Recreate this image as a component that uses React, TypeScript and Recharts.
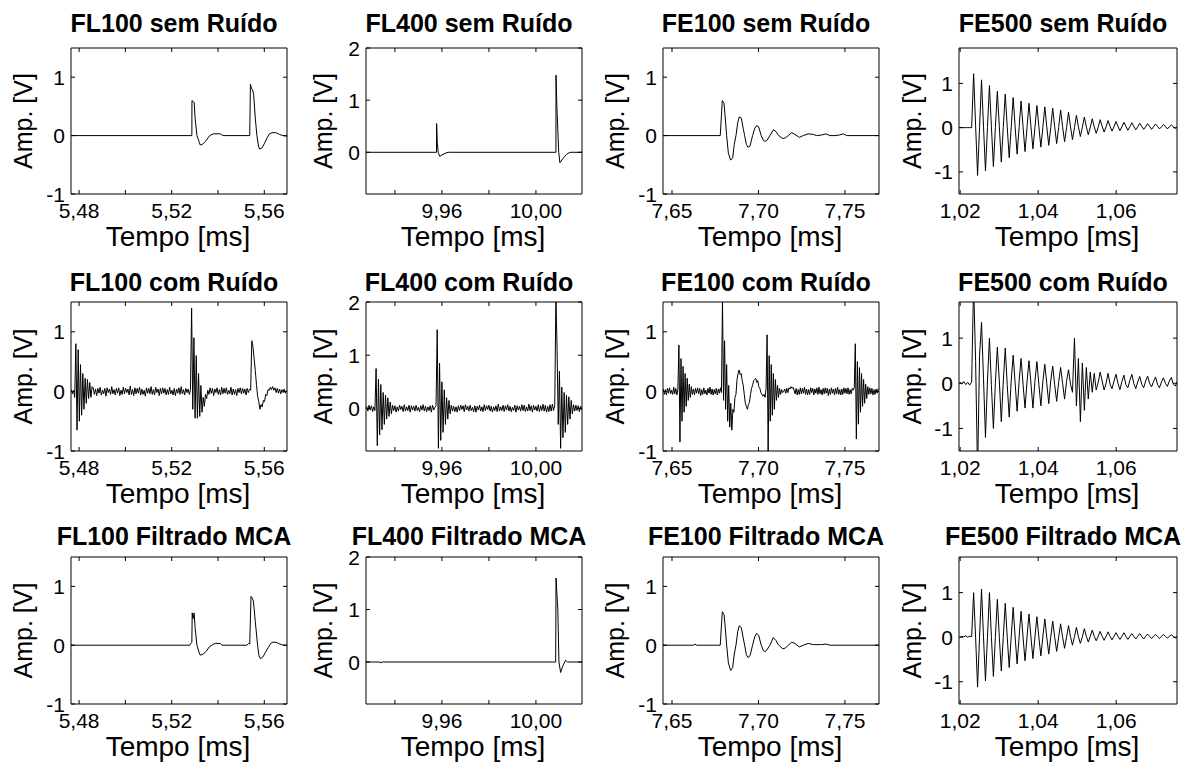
import { LineChart, Line, XAxis, YAxis } from 'recharts';

type Pt = [number, number];

// ---------- axes (time in ms, amplitude in V) ----------
const fl100XDomain = [5.4765, 5.5698];
const fl100XTicks = [5.48, 5.5, 5.52, 5.54, 5.56];
const fl100XLabels = [5.48, 5.52, 5.56];
const fl400XDomain = [9.9277, 10.0196];
const fl400XTicks = [9.94, 9.96, 9.98, 10.0];
const fl400XLabels = [9.96, 10.0];
const fe100XDomain = [7.6448, 7.7697];
const fe100XTicks = [7.65, 7.7, 7.75];
const fe500XDomain = [1.0197, 1.0756];
const fe500XTicks = [1.02, 1.04, 1.06];

const ampDomainA = [-1, 1.5];
const ampTicksA = [-1, 0, 1];
const ampDomainB = [-0.8, 2];
const ampTicksB = [0, 1, 2];
const ampDomainC = [-1.5, 1.8];
const ampTicksC = [-1, 0, 1];

// ---------- sem ruído ----------
const fl100SemRuido: Pt[] = [
  [5.4765, 0], [5.5287, 0], [5.52875, 0.6], [5.5293, 0.58], [5.5297, 0.57], [5.5301, 0.3],
  [5.5309, 0], [5.5318, -0.1], [5.5323, -0.16], [5.5333, -0.15], [5.5345, -0.1], [5.5357, -0.04],
  [5.5367, 0.01], [5.5381, 0.03], [5.541, 0.03], [5.5421, 0], [5.5537, 0], [5.554, 0.88],
  [5.5545, 0.8], [5.5549, 0.79], [5.5554, 0.7], [5.5561, 0.3], [5.5568, 0], [5.5575, -0.18],
  [5.558, -0.23], [5.559, -0.21], [5.56, -0.14], [5.5612, -0.04], [5.562, 0.02], [5.5633, 0.05],
  [5.565, 0.05], [5.5666, 0.02], [5.568, 0], [5.5698, -0.01],
];
const fl400SemRuido: Pt[] = [
  [9.9277, 0], [9.9577, 0], [9.95775, 0.55], [9.958, 0.2], [9.9584, 0], [9.9591, -0.08],
  [9.96, -0.05], [9.9613, -0.02], [9.9627, 0], [10.0085, 0], [10.00855, 1.48], [10.0089, 0.88],
  [10.0097, 0], [10.0102, -0.2], [10.0115, -0.12], [10.013, -0.04], [10.0145, 0], [10.0196, 0],
];
const fe100SemRuido: Pt[] = [
  [7.6448, 0], [7.6779, 0], [7.67909, 0.6], [7.6801, 0.55], [7.6808, 0.3], [7.6816, 0],
  [7.6826, -0.3], [7.6839, -0.42], [7.6851, -0.38], [7.686, -0.15], [7.687, 0], [7.688, 0.22],
  [7.6889, 0.32], [7.6901, 0.3], [7.6912, 0.12], [7.692, 0], [7.693, -0.15], [7.6939, -0.2],
  [7.6951, -0.18], [7.6966, 0], [7.6978, 0.12], [7.6989, 0.17], [7.7001, 0.15], [7.7016, 0],
  [7.7028, -0.08], [7.7038, -0.1], [7.7049, -0.08], [7.7066, 0], [7.7086, 0.1], [7.7101, 0.07],
  [7.7117, 0], [7.714, -0.05], [7.7155, -0.04], [7.7172, 0], [7.7192, 0.05], [7.7211, 0.02],
  [7.7236, -0.03], [7.7259, 0], [7.7288, 0.03], [7.7317, 0.02], [7.7336, 0], [7.7365, 0.01],
  [7.739, 0.03], [7.7413, 0], [7.7442, 0], [7.7467, 0.01], [7.749, 0.03], [7.751, 0], [7.7697, 0],
];

// FE500 panels are sampled on one time base
const fe500T0 = 1.0199;
const fe500Dt = 0.000507;
const fe500SemRuido = [
  0, 0, 0, 0, 0, 0, 0,
  1.22, 0.05, -1.08, 0, 1.08, 0.03, -0.98, 0, 0.95, 0.02, -0.88, 0, 0.82, 0.02, -0.78, 0,
  0.76, 0.02, -0.68, 0, 0.68, 0.02, -0.6, 0, 0.6, 0.02, -0.54, 0, 0.55, 0.02, -0.48, 0,
  0.5, 0.02, -0.44, 0, 0.47, 0.02, -0.4, 0, 0.44, 0.02, -0.36, 0, 0.4, 0.02, -0.32, 0,
  0.35, 0.02, -0.27, 0, 0.28, 0.02, -0.2, 0.01, 0.24, 0.02, -0.16, 0.01, 0.2, 0.02, -0.13, 0.01,
  0.18, 0.03, -0.1, 0.02, 0.16, 0.03, -0.08, 0.02, 0.14, 0.03, -0.07, 0.02, 0.12, 0.03, -0.06, 0.02,
  0.11, 0.03, -0.05, 0.02, 0.1, 0.03, -0.04, 0.02, 0.09, 0.03, -0.04, 0.02, 0.08, 0.03, -0.03, 0.02,
  0.07, 0.03, -0.03, 0.02, 0.06, 0.02, -0.02, 0.01,
];

// ---------- com ruído (uniformly sampled) ----------
const fl100RuidoT0 = 5.4766;
const fl100RuidoDt = 0.0005;
const fl100ComRuido = [
  0.03, -0.04, 0.02,
  -0.1, 0.8, -0.65, 0.7, -0.5, 0.45, -0.4, 0.3, -0.3, 0.22, -0.2, 0.2, -0.12, 0.15, -0.1, 0.08,
  0.06, -0.05, 0.04, -0.07, 0.05, -0.03, 0.07, -0.06, 0.02, -0.04,
  0.05, -0.08, 0.06, -0.02, 0.04, -0.05, 0.08, -0.04, 0.03, -0.06,
  0.05, -0.03, 0.06, -0.07, 0.02, -0.05, 0.07, -0.04, 0.05, -0.02,
  0.04, -0.06, 0.09, -0.05, 0.03, -0.07, 0.06, -0.04, 0.05, -0.03,
  0.07, -0.06, 0.04, -0.05, 0.02, -0.08, 0.06, -0.03, 0.05, -0.04,
  0.08, -0.05, 0.03, -0.06, 0.07, -0.02, 0.04, -0.07, 0.05, -0.04,
  0.06, -0.03, 0.05, -0.06, 0.03, -0.05, 0.07, -0.04, 0.02, -0.06,
  0.05, -0.07, 0.04, -0.03, 0.06, -0.05, 0.08, -0.04, 0.03, -0.06,
  0.05, -0.02, 0.04, -0.05, 0.03,
  1.4, -0.3, 0.9, -0.45, 0.6, -0.45, 0.3, -0.42, 0.1, -0.35, -0.1, -0.25, -0.05, -0.12, 0.02,
  -0.05, 0.06, -0.03, 0.05, -0.07, 0.04, -0.02, 0.06, -0.05, 0.03,
  -0.06, 0.07, -0.04, 0.05, -0.03, 0.06, -0.05, 0.02, -0.04, 0.07,
  -0.06, 0.04, -0.05, 0.03, -0.07, 0.05, -0.02, 0.06, -0.04, 0.05,
  -0.03, 0.04, -0.06, 0.05, -0.02, 0.04, 0.02,
  0.85, 0.75, 0.55, 0.35, 0.12, -0.08, -0.17, -0.3, -0.22, -0.26,
  -0.15, -0.17, -0.05, -0.07, 0.03, 0.02, 0.07, 0.03, 0.08, 0.02,
  0.06, -0.02, 0.05, -0.03, 0.04, -0.04, 0.03, -0.02, 0.04, -0.03, 0.01,
];

const fl400RuidoT0 = 9.928;
const fl400RuidoDt = 0.0005;
const fl400ComRuido = [
  0.04, -0.05, 0.06, -0.03, 0.05, -0.06, 0.03, -0.04,
  0.75, -0.7, 0.55, -0.5, 0.45, -0.4, 0.3, -0.3, 0.25, -0.2, 0.2, -0.15, 0.12, -0.1,
  0.06, -0.04, 0.05, -0.07, 0.03, -0.05, 0.06, -0.02, 0.04, -0.06,
  0.07, -0.05, 0.03, -0.04, 0.06, -0.07, 0.05, -0.03, 0.04, -0.05,
  0.06, -0.04, 0.02, -0.06, 0.05, -0.03, 0.07, -0.05, 0.04, -0.06,
  0.03, -0.04, 0.05, -0.07, 0.06, -0.03, 0.02,
  0.05, 1.48, -0.75, 0.85, -0.6, 0.5, -0.45, 0.35, -0.3, 0.2, -0.2, 0.15, -0.1,
  0.06, -0.05, 0.04, -0.06, 0.03, -0.07, 0.05, -0.04, 0.06, -0.02,
  0.05, -0.06, 0.07, -0.03, 0.04, -0.05, 0.06, -0.04, 0.02, -0.06,
  0.05, -0.07, 0.04, -0.03, 0.06, -0.05, 0.03, -0.06, 0.07, -0.04,
  0.05, -0.02, 0.06, -0.05, 0.04, -0.07, 0.03, -0.04, 0.05, -0.06,
  0.08, -0.05, 0.03, -0.04, 0.06, -0.06, 0.05, -0.03, 0.07, -0.05,
  0.04, -0.06, 0.02, -0.04, 0.06, -0.07, 0.05, -0.03, 0.04, -0.05,
  0.07, -0.04, 0.06, -0.06, 0.03, -0.05, 0.08, -0.04, 0.05, -0.07,
  0.06, -0.03, 0.04, -0.05, 0.07, -0.06, 0.05, -0.04, 0.08, -0.05,
  0.06, -0.07, 0.04, -0.06, 0.07, -0.05, 0.08, -0.04, 0.06,
  2.1, 1.1, -0.3, 0.7, -0.75, 0.4, -0.55, 0.3, -0.45, 0.25, -0.3, 0.22, -0.2, 0.15, -0.1,
  0.07, -0.05, 0.06, -0.04, 0.05, -0.06, 0.04, -0.03,
];

const fe100RuidoT0 = 7.645;
const fe100RuidoDt = 0.0006;
const fe100ComRuido = [
  0.04, -0.05, 0.03, -0.06, 0.05, -0.03, 0.06, -0.04, 0.02, -0.05, 0.07, -0.04, 0.05, -0.06, 0.03,
  0.78, -0.85, 0.55, -0.5, 0.42, -0.35, 0.3, -0.25, 0.22, -0.15, 0.12, -0.1, 0.08,
  -0.05, 0.04, -0.06, 0.05, -0.03, 0.06, -0.04, 0.05, -0.07, 0.03,
  -0.05, 0.06, -0.04, 0.02, -0.06, 0.05, -0.03, 0.07, -0.05, 0.04,
  -0.06, 0.03, -0.04, 0.05, -0.06, 0.04, -0.03, 0.06, -0.02,
  1.55, -0.15, 0.85, -0.3, 0.45, -0.5, 0.1, -0.6, -0.2, -0.65,
  -0.3, -0.35, -0.1, -0.05, 0.2, 0.3, 0.36, 0.28, 0.3, 0.18,
  0.1, -0.05, -0.2, -0.25, -0.3, -0.22, -0.18, -0.05, 0.05, 0.1,
  0.18, 0.2, 0.22, 0.15, 0.18, 0.08, 0.05, -0.02, -0.05, -0.08,
  -0.05, -0.1, 0.05, 0.95, -1.05, 0.6, -0.5, 0.45, -0.4, 0.3,
  -0.3, 0.2, -0.15, 0.1, -0.1, 0.05, -0.05, 0.03, -0.02, 0,
  0.04, -0.03, 0.05, -0.02, 0.06, 0.04, 0.08, 0.05, 0.07, 0.02,
  -0.04, 0.05, -0.06, 0.03, -0.05, 0.06, -0.04, 0.05, -0.03, 0.07,
  -0.05, 0.04, -0.06, 0.03, -0.05, 0.06, -0.02, 0.05, -0.06, 0.04,
  -0.03, 0.06, -0.05, 0.07, -0.04, 0.03, -0.06, 0.05, -0.04, 0.06,
  -0.03, 0.05, -0.07, 0.04, -0.05, 0.06, -0.03, 0.04, -0.06, 0.05,
  -0.04, 0.07, -0.05, 0.03, -0.06, 0.04, -0.05, 0.06, -0.03, 0.05,
  -0.04, 0.06, -0.05, 0.03, -0.04, 0.05, 0.02,
  0.06, 0.8, -0.8, 0.5, -0.55, 0.4, -0.35, 0.3, -0.25, 0.2, -0.2, 0.12, -0.12, 0.08,
  -0.05, 0.06, -0.04, 0.05, -0.06, 0.03, -0.05, 0.04, -0.03, 0.05,
];

const fe500ComRuido = [
  0.03, -0.02, 0.04, -0.03, 0.02, -0.04, 0.03,
  2.2, 0.5, -2.0, 0.6,
  1.35, 0.1, -1.2, 0.05, 1.0, -0.05, -1.0, 0, 0.8, 0.05,
  -0.85, 0.03, 0.78, -0.03, -0.75, 0.05, 0.62, 0, -0.62, 0.04,
  0.55, -0.02, -0.55, 0.03, 0.5, 0, -0.55, 0.04, 0.48, -0.02,
  -0.5, 0.03, 0.42, 0, -0.45, 0.05, 0.38, -0.03, -0.4, 0.02,
  0.35, 0, -0.35, 0.04, 0.3, -0.02, -0.2,
  1.0, -0.5, 0.55, -0.85, 0.45, -0.6, 0.35, -0.35, 0.25, -0.2, 0.22, -0.15,
  0.02, 0.25, 0.05, -0.15, 0, 0.22, -0.02, -0.12, 0.05, 0.2,
  0, -0.14, 0.04, 0.18, -0.03, -0.1, 0.06, 0.2, 0, -0.12,
  0.03, 0.15, -0.02, -0.1, 0.05, 0.16, 0, -0.08, 0.04, 0.14,
  -0.02, -0.1, 0.03, 0.12, 0, -0.07, 0.05, 0.13, -0.02, -0.06,
  0.04,
];

// ---------- filtrado MCA ----------
const fl100Filtrado: Pt[] = [
  [5.4765, 0], [5.5278, 0], [5.5283, 0.03], [5.5287, 0.05], [5.52885, 0.55], [5.5292, 0.45],
  [5.5297, 0.55], [5.5301, 0.3], [5.5309, 0], [5.5318, -0.12], [5.5323, -0.17], [5.5336, -0.15],
  [5.535, -0.1], [5.5362, -0.03], [5.5377, 0.01], [5.5388, 0.03], [5.541, 0.03], [5.5417, 0],
  [5.5525, 0], [5.5532, 0.03], [5.5537, 0.02], [5.55425, 0.83], [5.5548, 0.8], [5.5553, 0.75],
  [5.5561, 0.4], [5.5571, 0], [5.5577, -0.18], [5.5583, -0.23], [5.5594, -0.2], [5.5605, -0.12],
  [5.5617, -0.04], [5.5623, 0], [5.5633, 0.05], [5.565, 0.05], [5.5667, 0.02], [5.5682, 0], [5.5698, 0],
];
const fl400Filtrado: Pt[] = [
  [9.9277, 0], [9.9336, 0], [9.934, -0.02], [9.9345, 0], [10.0084, 0], [10.00855, 1.6],
  [10.0093, 1.0], [10.0098, 0], [10.0105, -0.2], [10.0112, -0.1], [10.0118, -0.04],
  [10.0126, 0.03], [10.0134, 0], [10.0196, 0],
];
const fe100Filtrado: Pt[] = [
  [7.6448, 0], [7.6625, 0], [7.6633, 0.02], [7.6641, 0], [7.6779, 0], [7.67909, 0.57],
  [7.6801, 0.52], [7.6808, 0.3], [7.6816, 0], [7.6826, -0.3], [7.6839, -0.43], [7.6851, -0.38],
  [7.686, -0.15], [7.687, 0], [7.688, 0.23], [7.6889, 0.33], [7.6901, 0.3], [7.6912, 0.12],
  [7.692, 0], [7.693, -0.16], [7.6939, -0.21], [7.6951, -0.18], [7.6966, 0], [7.6978, 0.14],
  [7.6989, 0.2], [7.7001, 0.17], [7.7016, 0], [7.7028, -0.09], [7.7038, -0.11], [7.7049, -0.08],
  [7.7066, 0], [7.7086, 0.13], [7.7101, 0.08], [7.7117, 0], [7.714, -0.06], [7.7155, -0.05],
  [7.7172, 0], [7.7192, 0.05], [7.7211, 0.03], [7.7236, -0.03], [7.7259, 0], [7.7288, 0.03],
  [7.7317, 0.01], [7.7365, 0.01], [7.739, 0.02], [7.7413, 0], [7.7697, 0],
];
const fe500Filtrado = [
  0, 0.02, 0.01, 0.03, 0, 0.02, 0.01,
  1.0, 0, -1.12, 0, 1.08, 0, -0.98, 0, 1.0, 0, -0.88, 0, 0.85, 0, -0.76, 0,
  0.76, 0, -0.68, 0, 0.67, 0, -0.6, 0, 0.58, 0, -0.53, 0, 0.52, 0, -0.48, 0,
  0.46, 0, -0.42, 0, 0.41, 0, -0.38, 0, 0.36, 0, -0.32, 0, 0.3, 0, -0.25, 0,
  0.26, 0.01, -0.18, 0.01, 0.22, 0.01, -0.14, 0.01, 0.19, 0.02, -0.11, 0.02,
  0.16, 0.02, -0.08, 0.02, 0.13, 0.02, -0.07, 0.02, 0.12, 0.02, -0.06, 0.02,
  0.1, 0.02, -0.05, 0.02, 0.1, 0.02, -0.05, 0.02, 0.08, 0.02, -0.04, 0.02,
  0.08, 0.02, -0.04, 0.02, 0.07, 0.02, -0.03, 0.02, 0.06, 0.02, -0.03, 0.02,
  0.06, 0.02, -0.02, 0.02, 0.05, 0.02, -0.02, 0.01,
];

const titles = [
  ['FL100 sem Ruído', 'FL400 sem Ruído', 'FE100 sem Ruído', 'FE500 sem Ruído'],
  ['FL100 com Ruído', 'FL400 com Ruído', 'FE100 com Ruído', 'FE500 com Ruído'],
  ['FL100 Filtrado MCA', 'FL400 Filtrado MCA', 'FE100 Filtrado MCA', 'FE500 Filtrado MCA'],
];

const fromPairs = (pts: Pt[]) => pts.map(([t, v]) => ({ t, v }));
const fromSamples = (t0: number, dt: number, vals: number[]) => vals.map((v, i) => ({ t: t0 + i * dt, v }));

const seriesGrid = [
  [fromPairs(fl100SemRuido), fromPairs(fl400SemRuido), fromPairs(fe100SemRuido), fromSamples(fe500T0, fe500Dt, fe500SemRuido)],
  [
    fromSamples(fl100RuidoT0, fl100RuidoDt, fl100ComRuido),
    fromSamples(fl400RuidoT0, fl400RuidoDt, fl400ComRuido),
    fromSamples(fe100RuidoT0, fe100RuidoDt, fe100ComRuido),
    fromSamples(fe500T0, fe500Dt, fe500ComRuido),
  ],
  [fromPairs(fl100Filtrado), fromPairs(fl400Filtrado), fromPairs(fe100Filtrado), fromSamples(fe500T0, fe500Dt, fe500Filtrado)],
];

const COLS = [
  { left: 71, width: 216, yLabelGap: 48, xDomain: fl100XDomain, xTicks: fl100XTicks, xLabels: fl100XLabels, yDomain: ampDomainA, yTicks: ampTicksA },
  { left: 366, width: 216, yLabelGap: 43, xDomain: fl400XDomain, xTicks: fl400XTicks, xLabels: fl400XLabels, yDomain: ampDomainB, yTicks: ampTicksB },
  { left: 663, width: 216, yLabelGap: 48, xDomain: fe100XDomain, xTicks: fe100XTicks, xLabels: fe100XTicks, yDomain: ampDomainA, yTicks: ampTicksA },
  { left: 959, width: 218, yLabelGap: 47, xDomain: fe500XDomain, xTicks: fe500XTicks, xLabels: fe500XTicks, yDomain: ampDomainC, yTicks: ampTicksC },
];
const ROWS = [
  { top: 48, height: 146, titleY: 32 },
  { top: 302, height: 149, titleY: 291 },
  { top: 557, height: 147, titleY: 545 },
];

const FONT = 'Arial, "Liberation Sans", Helvetica, sans-serif';
// axes are 1px thick (recharts skips 0-sized axes), so margins are one less than the gap wanted
const M = { top: 9, right: 9, bottom: 33, left: 35 };
const GAP = { top: 10, right: 10, bottom: 34, left: 36 };
const TICK = 4;

const fmt = (v: number) => v.toFixed(2).replace('.', ',');
const hasLabel = (list: number[], v: number) => list.some((l) => Math.abs(l - v) < 1e-9);

function Panel({ row, col }: { row: number; col: number }) {
  const c = COLS[col];
  const r = ROWS[row];
  const data = seriesGrid[row][col];

  const bottomTick = (p: any) => (
    <g>
      <line x1={p.x} x2={p.x} y1={p.y} y2={p.y - TICK} stroke="#000" />
      {hasLabel(c.xLabels, p.payload.value) && (
        <text x={p.x} y={p.y + 24} textAnchor="middle" fontSize={21} fontFamily={FONT} fill="#000">
          {fmt(p.payload.value)}
        </text>
      )}
    </g>
  );
  const topTick = (p: any) => <line x1={p.x} x2={p.x} y1={p.y} y2={p.y + TICK} stroke="#000" />;
  const leftTick = (p: any) => (
    <g>
      <line x1={p.x} x2={p.x + TICK} y1={p.y} y2={p.y} stroke="#000" />
      <text x={p.x - 6} y={p.y} dy="0.36em" textAnchor="end" fontSize={21} fontFamily={FONT} fill="#000">
        {String(p.payload.value)}
      </text>
    </g>
  );
  const rightTick = (p: any) => <line x1={p.x} x2={p.x - TICK} y1={p.y} y2={p.y} stroke="#000" />;

  return (
    <div style={{ position: 'absolute', left: c.left - GAP.left, top: r.top - GAP.top }}>
      <LineChart width={c.width + GAP.left + GAP.right} height={r.height + GAP.top + GAP.bottom} data={data} margin={M}>
        <XAxis type="number" dataKey="t" domain={c.xDomain} ticks={c.xTicks} allowDataOverflow interval={0}
          height={1} tickSize={0} tickMargin={0} tickLine={false} axisLine={{ stroke: '#000' }} tick={bottomTick} />
        <XAxis xAxisId="top" orientation="top" type="number" dataKey="t" domain={c.xDomain} ticks={c.xTicks} allowDataOverflow interval={0}
          height={1} tickSize={0} tickMargin={0} tickLine={false} axisLine={{ stroke: '#000' }} tick={topTick} />
        <YAxis type="number" domain={c.yDomain} ticks={c.yTicks} allowDataOverflow interval={0}
          width={1} tickSize={0} tickMargin={0} tickLine={false} axisLine={{ stroke: '#000' }} tick={leftTick} />
        <YAxis yAxisId="right" orientation="right" type="number" domain={c.yDomain} ticks={c.yTicks} allowDataOverflow interval={0}
          width={1} tickSize={0} tickMargin={0} tickLine={false} axisLine={{ stroke: '#000' }} tick={rightTick} />
        <Line type="linear" dataKey="v" stroke="#000" strokeWidth={1} dot={false} activeDot={false} isAnimationActive={false} />
      </LineChart>
    </div>
  );
}

export default function App() {
  return (
    <div style={{ position: 'absolute', left: 0, top: 0, width: 1192, height: 768, background: '#fff', overflow: 'hidden' }}>
      {ROWS.map((_, ri) => COLS.map((_, ci) => <Panel key={`${ri}-${ci}`} row={ri} col={ci} />))}
      <svg width={1192} height={768} style={{ position: 'absolute', left: 0, top: 0, pointerEvents: 'none' }}>
        {ROWS.map((r, ri) =>
          COLS.map((c, ci) => {
            const cx = c.left + c.width / 2;
            const cy = r.top + r.height / 2;
            return (
              <g key={`lbl-${ri}-${ci}`} fontFamily={FONT} fill="#000">
                <text x={cx - 5} y={r.titleY} textAnchor="middle" fontSize={25} fontWeight="bold">
                  {titles[ri][ci]}
                </text>
                <text x={cx - 1} y={r.top + r.height + 52} textAnchor="middle" fontSize={28}>
                  Tempo [ms]
                </text>
                <text transform={`translate(${c.left - c.yLabelGap} ${cy}) rotate(-90)`} dy="0.35em" textAnchor="middle" fontSize={25}>
                  Amp. [V]
                </text>
              </g>
            );
          })
        )}
      </svg>
    </div>
  );
}
